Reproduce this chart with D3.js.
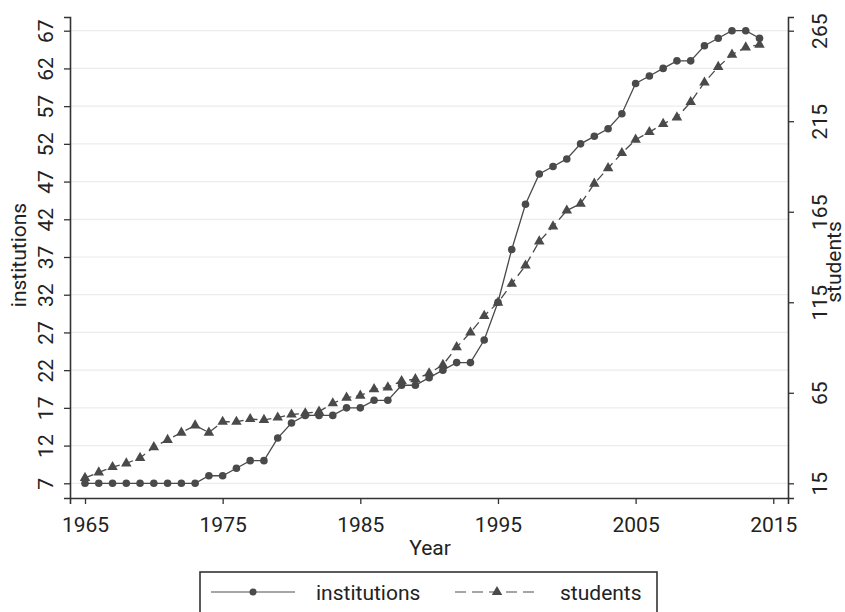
<!DOCTYPE html>
<html><head><meta charset="utf-8">
<script src="https://cdn.jsdelivr.net/npm/d3@7"></script>
<style>body{margin:0;background:#fff}svg{display:block}text{font-family:Roboto,"Liberation Sans",sans-serif;fill:#222}</style>
</head><body><svg id="c" width="845" height="612"></svg>
<script>
const years = d3.range(1965, 2015);
const institutions = [7,7,7,7,7,7,7,7,7,8,8,9,10,10,13,15,16,16,16,17,17,18,18,20,20,21,22,23,23,26,31,38,44,48,49,50,52,53,54,56,60,61,62,63,63,65,66,67,67,66];
const students = [18,21,24,26,29,35,39,43,47,43,49,49,50.5,50,51.3,53,53.7,54.6,59.2,62.3,63.4,67,68,71.5,72.5,75.8,80.4,90.2,98.3,107.5,114.8,125.2,135.3,148.6,156.9,165.7,169.4,180.5,189.1,197.4,204.8,209,213.5,217.1,225.6,236.4,245,251.8,255.8,257.3];
const xTicks = [1965,1975,1985,1995,2005,2015];
const leftTicks = [7,12,17,22,27,32,37,42,47,52,57,62,67];
const rightTicks = [15,65,115,165,215,265];

const svg = d3.select('#c');
const L = 70, R = 788, T = 17, B = 498;
const x = d3.scaleLinear().domain([1963.91, 2016.07]).range([L, R]);
const yL = d3.scaleLinear().domain([5.051, 68.816]).range([B, T]);
const yR = d3.scaleLinear().domain([15 + (5.051-7)*250/60, 265 + (68.816-67)*250/60]).range([B, T]);
const ink = '#4a4a4a', axisC = '#333';

// grid
svg.append('g').selectAll('line').data(leftTicks).join('line')
  .attr('x1', L).attr('x2', R).attr('y1', d => yL(d)).attr('y2', d => yL(d))
  .attr('stroke', '#ececec').attr('stroke-width', 1.2);

// axes
const fs = 21;
const gx = svg.append('g').attr('transform', `translate(0,${B})`)
  .call(d3.axisBottom(x).tickValues(xTicks).tickFormat(d3.format('d')).tickSize(6).tickPadding(6));
const gl = svg.append('g').attr('transform', `translate(${L},0)`)
  .call(d3.axisLeft(yL).tickValues(leftTicks).tickSize(6).tickPadding(0));
const gr = svg.append('g').attr('transform', `translate(${R},0)`)
  .call(d3.axisRight(yR).tickValues(rightTicks).tickSize(6).tickPadding(0));
[gx, gl, gr].forEach(g => {
  g.select('.domain').attr('stroke', axisC).attr('stroke-width', 1.6);
  g.selectAll('.tick line').attr('stroke', axisC).attr('stroke-width', 1.3);
  g.selectAll('.tick text').attr('font-size', fs).attr('fill', '#222').attr('font-family', 'Roboto');
});
gx.selectAll('.tick text').attr('dy', null).attr('y', 34);
gl.selectAll('.tick text').attr('x', null).attr('dy', null).attr('text-anchor', 'middle')
  .attr('transform', 'translate(-17,0) rotate(-90)').attr('y', 0);
gr.selectAll('.tick text').attr('x', null).attr('dy', null).attr('text-anchor', 'middle')
  .attr('transform', 'translate(39,0) rotate(-90)').attr('y', 0);

// titles
svg.append('text').attr('transform', `translate(26,255) rotate(-90)`).attr('text-anchor', 'middle')
  .attr('font-size', fs).text('institutions');
svg.append('text').attr('transform', `translate(841,262) rotate(-90)`).attr('text-anchor', 'middle')
  .attr('font-size', fs).text('students');
svg.append('text').attr('x', 430).attr('y', 555).attr('text-anchor', 'middle')
  .attr('font-size', fs).text('Year');

// lines
const lineI = d3.line().x((d, i) => x(years[i])).y(d => yL(d));
const lineS = d3.line().x((d, i) => x(years[i])).y(d => yR(d));
svg.append('path').datum(institutions).attr('d', lineI).attr('fill', 'none')
  .attr('stroke', ink).attr('stroke-width', 1.3);
svg.append('path').datum(students).attr('d', lineS).attr('fill', 'none')
  .attr('stroke', ink).attr('stroke-width', 1.3).attr('stroke-dasharray', '9,5');
const tri = d3.symbol().type(d3.symbolTriangle).size(48);
svg.append('g').selectAll('path').data(students).join('path')
  .attr('d', tri).attr('transform', (d, i) => `translate(${x(years[i])},${yR(d)})`).attr('fill', ink);
svg.append('g').selectAll('circle').data(institutions).join('circle')
  .attr('cx', (d, i) => x(years[i])).attr('cy', d => yL(d)).attr('r', 3.8).attr('fill', ink);

// legend
const lg = svg.append('g');
lg.append('rect').attr('x', 200).attr('y', 572).attr('width', 457).attr('height', 60)
  .attr('fill', '#fff').attr('stroke', axisC).attr('stroke-width', 1.6);
const ly = 592;
lg.append('line').attr('x1', 211).attr('x2', 295).attr('y1', ly).attr('y2', ly).attr('stroke', '#888').attr('stroke-width', 1.6);
lg.append('circle').attr('cx', 253).attr('cy', ly).attr('r', 3.5).attr('fill', ink);
lg.append('text').attr('x', 316).attr('y', ly + 8).attr('font-size', fs).text('institutions');
lg.append('line').attr('x1', 455).attr('x2', 540).attr('y1', ly).attr('y2', ly).attr('stroke', '#888').attr('stroke-width', 1.6).attr('stroke-dasharray', '11,6');
lg.append('path').attr('d', tri).attr('transform', `translate(497,${ly})`).attr('fill', ink);
lg.append('text').attr('x', 560).attr('y', ly + 8).attr('font-size', fs).text('students');
</script></body></html>
